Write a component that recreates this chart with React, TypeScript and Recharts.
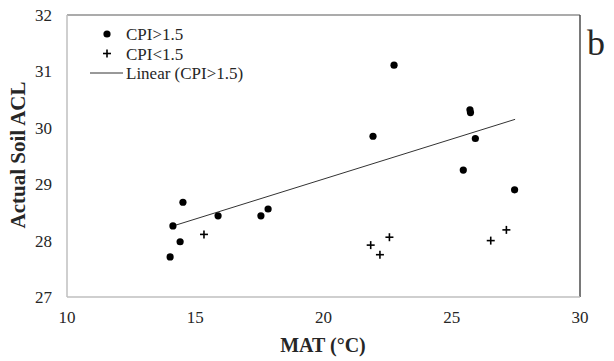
import React from 'react';
import { ScatterChart, Scatter, XAxis, YAxis, ReferenceLine } from 'recharts';

const highX = [14.02, 14.13, 14.41, 14.52, 15.89, 17.56, 17.84, 21.93, 22.75, 25.71, 25.73, 25.92, 25.45, 27.45];
const highY = [27.71, 28.26, 27.98, 28.68, 28.44, 28.44, 28.56, 29.85, 31.11, 30.32, 30.27, 29.81, 29.25, 28.9];
const lowX = [15.34, 21.84, 22.2, 22.57, 26.52, 27.13];
const lowY = [28.11, 27.92, 27.75, 28.06, 28.0, 28.19];
const trendX = [14.14, 27.47];
const trendY = [28.26, 30.15];
const xTicks = [10, 15, 20, 25, 30];
const yTicks = [27, 28, 29, 30, 31, 32];

const highData = highX.map((x, i) => ({ x, y: highY[i] }));
const lowData = lowX.map((x, i) => ({ x, y: lowY[i] }));

const FONT = '"Liberation Serif", "Times New Roman", serif';

const Dot = (p: any) => <circle cx={p.cx} cy={p.cy} r={3.6} fill="#000" />;
const Plus = (p: any) => (
  <g stroke="#000" strokeWidth={1.6}>
    <line x1={p.cx - 4} x2={p.cx + 4} y1={p.cy} y2={p.cy} />
    <line x1={p.cx} x2={p.cx} y1={p.cy - 4} y2={p.cy + 4} />
  </g>
);

export default function App() {
  return (
    <div style={{ position: 'absolute', left: 0, top: 0, width: 614, height: 361, background: '#fff' }}>
      <ScatterChart width={614} height={361} margin={{ top: 15, right: 34, left: 0, bottom: 0 }}>
        <XAxis
          type="number"
          dataKey="x"
          domain={[10, 30]}
          ticks={xTicks}
          height={64}
          tickLine={false}
          tickMargin={8}
          axisLine={{ stroke: '#bfbfbf', strokeWidth: 1.5 }}
          tick={{ fill: '#262626', fontSize: 17, fontFamily: FONT }}
          allowDataOverflow
        />
        <YAxis
          type="number"
          dataKey="y"
          domain={[27, 32]}
          ticks={yTicks}
          width={67}
          tickLine={false}
          tickMargin={9}
          axisLine={{ stroke: '#bfbfbf', strokeWidth: 1.5 }}
          tick={{ fill: '#262626', fontSize: 17, fontFamily: FONT }}
          allowDataOverflow
        />
        <ReferenceLine y={32} stroke="#595959" strokeWidth={1.2} />
        <ReferenceLine x={30} stroke="#404040" strokeWidth={1.4} />
        <ReferenceLine
          segment={[{ x: trendX[0], y: trendY[0] }, { x: trendX[1], y: trendY[1] }]}
          stroke="#333"
          strokeWidth={1}
        />
        <Scatter data={highData} shape={Dot} isAnimationActive={false} />
        <Scatter data={lowData} shape={Plus} isAnimationActive={false} />
      </ScatterChart>
      <svg width={614} height={361} style={{ position: 'absolute', left: 0, top: 0, pointerEvents: 'none' }}>
        <g fontFamily={FONT} fontSize={17} fill="#262626">
          <circle cx={107} cy={34} r={3.6} fill="#000" />
          <text x={126} y={39.5}>CPI&gt;1.5</text>
          <g stroke="#000" strokeWidth={1.6}>
            <line x1={103} x2={111} y1={53.5} y2={53.5} />
            <line x1={107} x2={107} y1={49.5} y2={57.5} />
          </g>
          <text x={126} y={59.5}>CPI&lt;1.5</text>
          <line x1={90} x2={123} y1={73} y2={73} stroke="#333" strokeWidth={1} />
          <text x={126} y={79}>Linear (CPI&gt;1.5)</text>
        </g>
        <text x={323} y={352} textAnchor="middle" fontFamily={FONT} fontSize={20} fontWeight="bold" fill="#262626">MAT (°C)</text>
        <text
          x={0}
          y={0}
          transform="translate(18,155) rotate(-90)"
          textAnchor="middle"
          dominantBaseline="central"
          fontFamily={FONT}
          fontSize={21}
          fontWeight="bold"
          fill="#262626"
        >
          Actual Soil ACL
        </text>
        <text x={587} y={55} fontFamily={FONT} fontSize={36} fill="#262626">b</text>
      </svg>
    </div>
  );
}
